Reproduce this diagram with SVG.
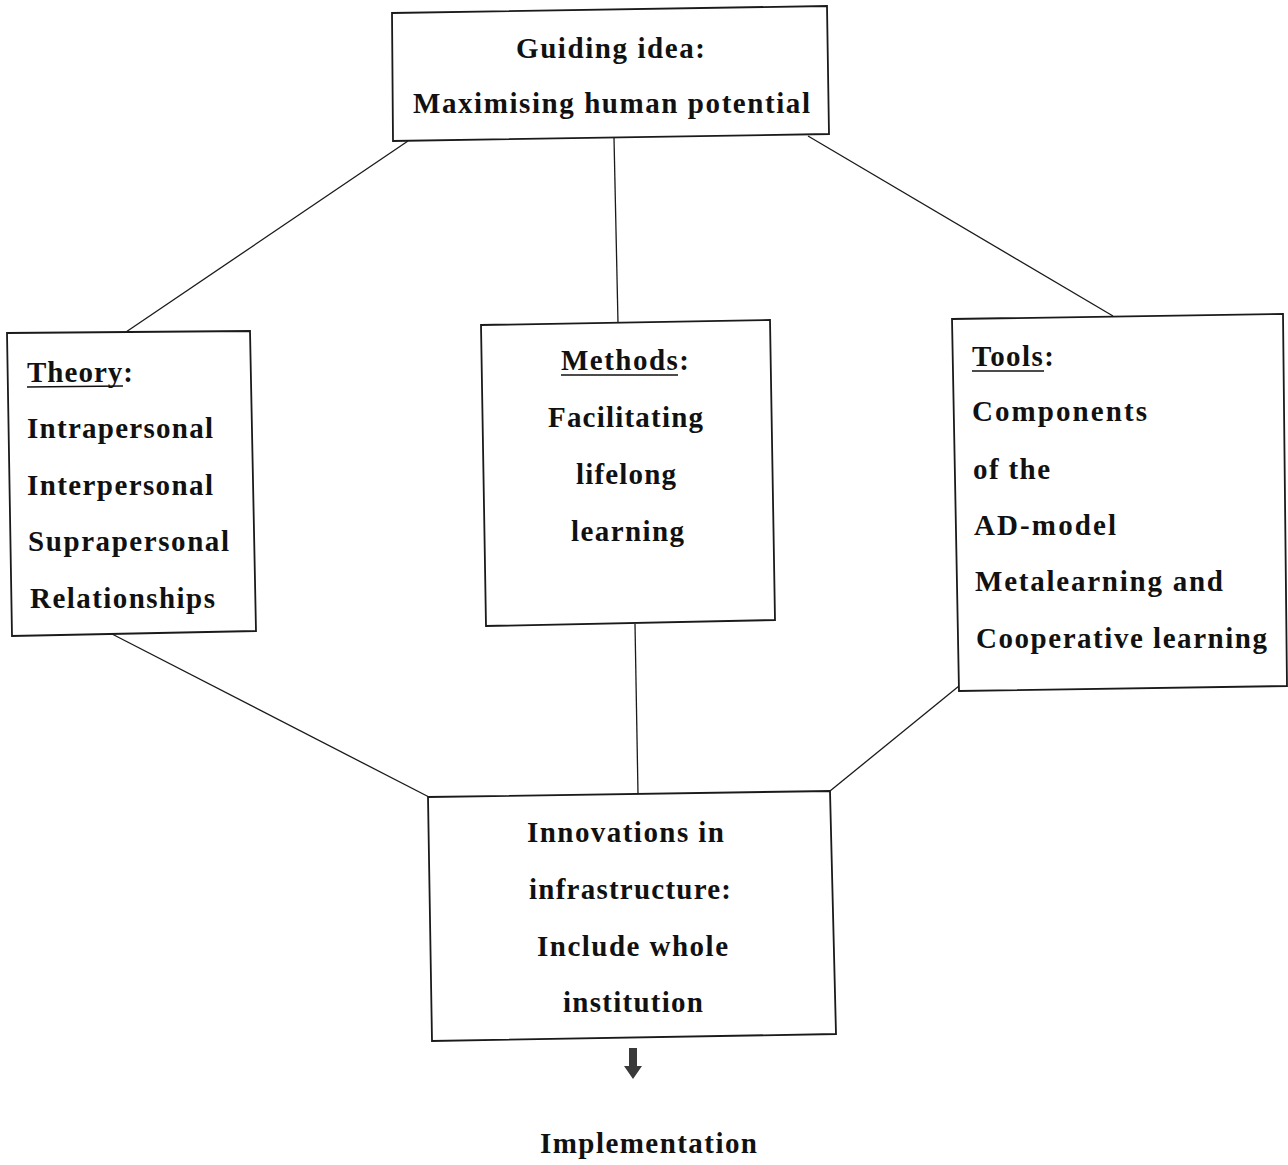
<svg xmlns="http://www.w3.org/2000/svg" width="1288" height="1165" viewBox="0 0 1288 1165">
  <style>
    .box { fill: #ffffff; stroke: #1a1a1a; stroke-width: 1.8; }
    .link { stroke: #1a1a1a; stroke-width: 1.3; fill: none; }
    .t { font-family: "Liberation Serif", "Times New Roman", serif; font-weight: bold; font-size: 29px; fill: #111111; }
    .ul { stroke: #111111; stroke-width: 1.3; }
  </style>
  <rect width="1288" height="1165" fill="#ffffff"/>

  <!-- connectors -->
  <g id="connectors">
    <line class="link" x1="408" y1="141" x2="126" y2="332"/>
    <line class="link" x1="614" y1="138" x2="618" y2="323"/>
    <line class="link" x1="808" y1="136" x2="1113" y2="316"/>
    <line class="link" x1="112" y1="634" x2="429" y2="797"/>
    <line class="link" x1="635" y1="624" x2="638" y2="794"/>
    <line class="link" x1="959" y1="686" x2="830" y2="791"/>
  </g>

  <!-- guiding idea -->
  <g id="node-guiding">
    <polygon class="box" points="392,13 827,6 829,134 393,141"/>
    <text class="t" x="516" y="58" textLength="189" lengthAdjust="spacing">Guiding idea:</text>
    <text class="t" x="413" y="113" textLength="397" lengthAdjust="spacing">Maximising human potential</text>
  </g>

  <!-- theory -->
  <g id="node-theory">
    <polygon class="box" points="7,333 250,331 256,631 12,636"/>
    <text class="t" x="27" y="382" textLength="106" lengthAdjust="spacing">Theory:</text>
    <line class="ul" x1="27" y1="387" x2="123" y2="386"/>
    <text class="t" x="27" y="438" textLength="186" lengthAdjust="spacing">Intrapersonal</text>
    <text class="t" x="27" y="495" textLength="186" lengthAdjust="spacing">Interpersonal</text>
    <text class="t" x="28" y="551" textLength="201" lengthAdjust="spacing">Suprapersonal</text>
    <text class="t" x="30" y="608" textLength="185" lengthAdjust="spacing">Relationships</text>
  </g>

  <!-- methods -->
  <g id="node-methods">
    <polygon class="box" points="481,325 770,320 775,620 486,626"/>
    <text class="t" x="561" y="370" textLength="128" lengthAdjust="spacing">Methods:</text>
    <line class="ul" x1="561" y1="375" x2="678" y2="375"/>
    <text class="t" x="548" y="427" textLength="155" lengthAdjust="spacing">Facilitating</text>
    <text class="t" x="576" y="484" textLength="100" lengthAdjust="spacing">lifelong</text>
    <text class="t" x="571" y="541" textLength="113" lengthAdjust="spacing">learning</text>
  </g>

  <!-- tools -->
  <g id="node-tools">
    <polygon class="box" points="952,319 1283,314 1287,686 959,691"/>
    <text class="t" x="972" y="366" textLength="82" lengthAdjust="spacing">Tools:</text>
    <line class="ul" x1="972" y1="371" x2="1044" y2="371"/>
    <text class="t" x="972" y="421" textLength="175" lengthAdjust="spacing">Components</text>
    <text class="t" x="973" y="479" textLength="77" lengthAdjust="spacing">of the</text>
    <text class="t" x="974" y="535" textLength="142" lengthAdjust="spacing">AD-model</text>
    <text class="t" x="975" y="591" textLength="248" lengthAdjust="spacing">Metalearning and</text>
    <text class="t" x="976" y="648" textLength="291" lengthAdjust="spacing">Cooperative learning</text>
  </g>

  <!-- infrastructure -->
  <g id="node-infrastructure">
    <polygon class="box" points="428,797 830,791 836,1034 432,1041"/>
    <text class="t" x="527" y="842" textLength="197" lengthAdjust="spacing">Innovations in</text>
    <text class="t" x="529" y="899" textLength="202" lengthAdjust="spacing">infrastructure:</text>
    <text class="t" x="537" y="956" textLength="191" lengthAdjust="spacing">Include whole</text>
    <text class="t" x="563" y="1012" textLength="140" lengthAdjust="spacing">institution</text>
  </g>

  <!-- implementation -->
  <g id="node-implementation">
    <polygon fill="#3a3a3a" points="629,1048 637,1048 637,1066 642,1066 633,1079 624,1066 629,1066"/>
    <text class="t" x="540" y="1153" textLength="217" lengthAdjust="spacing">Implementation</text>
  </g>
</svg>
